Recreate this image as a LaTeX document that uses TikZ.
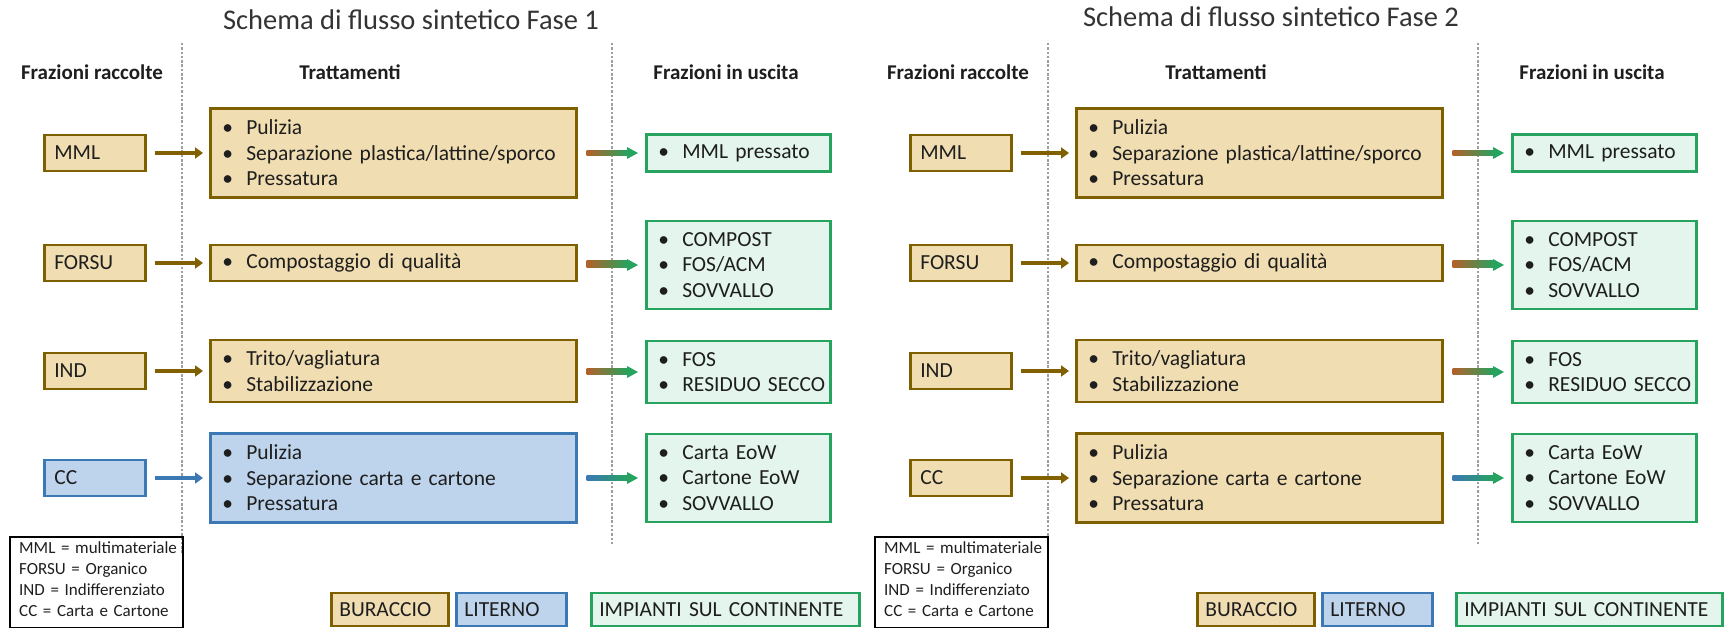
\documentclass[tikz,border=0pt]{standalone}
\usepackage{fontspec}
\setmainfont{Carlito}
\usetikzlibrary{arrows.meta,calc}

\definecolor{tanfill}{HTML}{F0DDB2}
\definecolor{tanline}{HTML}{7F6000}
\definecolor{bluefill}{HTML}{BED4EC}
\definecolor{blueline}{HTML}{3C78B4}
\definecolor{grnfill}{HTML}{E3F5EC}
\definecolor{grnline}{HTML}{25A35F}
\definecolor{arrbrown}{HTML}{806000}
\definecolor{arrorange}{HTML}{B4602A}
\definecolor{txt}{HTML}{1E1E1E}
\definecolor{ttl}{HTML}{333333}

\newcommand\bodysize{\fontsize{21.5pt}{25.5pt}\selectfont}
\newcommand\legsize{\fontsize{17pt}{21pt}\selectfont}
\newcommand\headsize{\fontsize{21pt}{25pt}\selectfont\bfseries}
\newcommand\titlesize{\fontsize{28.5pt}{32pt}\selectfont}
\newcommand\itembul[1]{\hspace*{12pt}\makebox[24pt][l]{•}#1}
\newcommand\legline[1]{\hspace*{9pt}#1}

% gradient output arrow between a treatment box and an output box
\newcommand\outflow[3]{%
  \shade[left color=#3, right color=grnline, middle color=#3!50!grnline]
    ([xshift=9pt,yshift=2.4pt]#1.east) rectangle ([xshift=-17pt,yshift=-2.4pt]#2.west);
  \fill[grnline] ([xshift=-18pt,yshift=6pt]#2.west) -- ([xshift=-7pt]#2.west)
    -- ([xshift=-18pt,yshift=-6pt]#2.west) -- cycle;}

\begin{document}
\hyphenpenalty=10000
\begin{tikzpicture}[x=1pt,y=-1pt,
  box/.style={draw, line width=2.6pt, inner ysep=0pt, anchor=west,
    align=left, text=txt, font=\bodysize},
  srcbox/.style={box, inner xsep=10pt, text width=81pt, minimum height=36pt},
  treat/.style={box, inner xsep=0pt, text width=366pt},
  outbox/.style={box, inner xsep=0pt, text width=184pt},
  buraccio/.style={draw=tanline, fill=tanfill},
  literno/.style={draw=blueline, fill=bluefill},
  uscita/.style={draw=grnline, fill=grnfill},
  inflow/.style={line width=4.8pt, -{Triangle[length=8pt,width=11pt]}},
  divider/.style={draw=gray!75, line width=1.1pt, dash pattern=on 2.5pt off 1.8pt},
  title/.style={font=\titlesize, text=ttl, inner sep=0pt},
  head/.style={font=\headsize, text=txt, inner sep=0pt},
  legend/.style={draw=black, line width=2.4pt, anchor=north west, align=left,
    inner xsep=0pt, text width=173pt, minimum height=91pt, font=\legsize, text=txt},
  tag/.style={box, font=\fontsize{21.5pt}{25pt}\selectfont, inner xsep=8pt,
    minimum height=33pt}
]
\useasboundingbox (0,0) rectangle (1724,628);

% ---------------- Fase 1 ----------------
\node[title] (ta) at (411,20) {Schema di flusso sintetico Fase 1};
\node[head] (ha1) at (92,72) {Frazioni raccolte};
\node[head] (ha2) at (350,72) {Trattamenti};
\node[head] (ha3) at (726,72) {Frazioni in uscita};
\draw[divider] (182,43) -- (182,553);
\draw[divider] (612,43) -- (612,545);

\node[srcbox, buraccio] (a1) at (43,153) {MML};
\node[srcbox, buraccio] (a2) at (43,263) {FORSU};
\node[srcbox, buraccio] (a3) at (43,371) {IND};
\node[srcbox, literno]  (a4) at (43,478) {CC};

\node[treat, buraccio, minimum height=89pt] (at1) at (209,153)
  {\itembul{Pulizia}\\\itembul{Separazione plastica/lattine/sporco}\\\itembul{Pressatura}};
\node[treat, buraccio, minimum height=36pt] (at2) at (209,263)
  {\itembul{Compostaggio di qualità}};
\node[treat, buraccio, minimum height=62pt] (at3) at (209,371)
  {\itembul{Trito/vagliatura}\\\itembul{Stabilizzazione}};
\node[treat, literno, minimum height=89pt] (at4) at (209,478)
  {\itembul{Pulizia}\\\itembul{Separazione carta e cartone}\\\itembul{Pressatura}};

\node[outbox, uscita, minimum height=37pt] (ao1) at (645,153) {\itembul{MML pressato}};
\node[outbox, uscita, minimum height=88pt] (ao2) at (645,265)
  {\itembul{COMPOST}\\\itembul{FOS/ACM}\\\itembul{SOVVALLO}};
\node[outbox, uscita, minimum height=62pt] (ao3) at (645,372)
  {\itembul{FOS}\\\itembul{RESIDUO SECCO}};
\node[outbox, uscita, minimum height=88pt] (ao4) at (645,478)
  {\itembul{Carta EoW}\\\itembul{Cartone EoW}\\\itembul{SOVVALLO}};

\draw[inflow, arrbrown] ([xshift=8pt]a1.east) -- ([xshift=-6pt]at1.west);
\draw[inflow, arrbrown] ([xshift=8pt]a2.east) -- ([xshift=-6pt]at2.west);
\draw[inflow, arrbrown] ([xshift=8pt]a3.east) -- ([xshift=-6pt]at3.west);
\draw[inflow, blueline] ([xshift=8pt]a4.east) -- ([xshift=-6pt]at4.west);

\outflow{at1}{ao1}{arrorange}
\outflow{at2}{ao2}{arrorange}
\outflow{at3}{ao3}{arrorange}
\outflow{at4}{ao4}{blueline}

\node[legend] (la) at (9,536)
  {\legline{MML = multimateriale}\\\legline{FORSU = Organico}\\\legline{IND = Indifferenziato}\\\legline{CC = Carta e Cartone}\rule[-8pt]{0pt}{8pt}};
\node[tag, buraccio, text width=101pt] (ka1) at (330,609.5) {BURACCIO};
\node[tag, literno, text width=94pt] (ka2) at (455,609.5) {LITERNO};
\node[tag, uscita, text width=252pt] (ka3) at (590,609.5) {IMPIANTI SUL CONTINENTE};

% ---------------- Fase 2 ----------------
\node[title] (tb) at (1271,17) {Schema di flusso sintetico Fase 2};
\node[head] (hb1) at (958,72) {Frazioni raccolte};
\node[head] (hb2) at (1216,72) {Trattamenti};
\node[head] (hb3) at (1592,72) {Frazioni in uscita};
\draw[divider] (1048,43) -- (1048,553);
\draw[divider] (1478,43) -- (1478,545);

\node[srcbox, buraccio] (b1) at (909,153) {MML};
\node[srcbox, buraccio] (b2) at (909,263) {FORSU};
\node[srcbox, buraccio] (b3) at (909,371) {IND};
\node[srcbox, buraccio] (b4) at (909,478) {CC};

\node[treat, buraccio, minimum height=89pt] (bt1) at (1075,153)
  {\itembul{Pulizia}\\\itembul{Separazione plastica/lattine/sporco}\\\itembul{Pressatura}};
\node[treat, buraccio, minimum height=36pt] (bt2) at (1075,263)
  {\itembul{Compostaggio di qualità}};
\node[treat, buraccio, minimum height=62pt] (bt3) at (1075,371)
  {\itembul{Trito/vagliatura}\\\itembul{Stabilizzazione}};
\node[treat, buraccio, minimum height=89pt] (bt4) at (1075,478)
  {\itembul{Pulizia}\\\itembul{Separazione carta e cartone}\\\itembul{Pressatura}};

\node[outbox, uscita, minimum height=37pt] (bo1) at (1511,153) {\itembul{MML pressato}};
\node[outbox, uscita, minimum height=88pt] (bo2) at (1511,265)
  {\itembul{COMPOST}\\\itembul{FOS/ACM}\\\itembul{SOVVALLO}};
\node[outbox, uscita, minimum height=62pt] (bo3) at (1511,372)
  {\itembul{FOS}\\\itembul{RESIDUO SECCO}};
\node[outbox, uscita, minimum height=88pt] (bo4) at (1511,478)
  {\itembul{Carta EoW}\\\itembul{Cartone EoW}\\\itembul{SOVVALLO}};

\draw[inflow, arrbrown] ([xshift=8pt]b1.east) -- ([xshift=-6pt]bt1.west);
\draw[inflow, arrbrown] ([xshift=8pt]b2.east) -- ([xshift=-6pt]bt2.west);
\draw[inflow, arrbrown] ([xshift=8pt]b3.east) -- ([xshift=-6pt]bt3.west);
\draw[inflow, arrbrown] ([xshift=8pt]b4.east) -- ([xshift=-6pt]bt4.west);

\outflow{bt1}{bo1}{arrorange}
\outflow{bt2}{bo2}{arrorange}
\outflow{bt3}{bo3}{arrorange}
\outflow{bt4}{bo4}{blueline}

\node[legend] (lb) at (874,536)
  {\legline{MML = multimateriale}\\\legline{FORSU = Organico}\\\legline{IND = Indifferenziato}\\\legline{CC = Carta e Cartone}\rule[-8pt]{0pt}{8pt}};
\node[tag, buraccio, text width=101pt] (kb1) at (1196,609.5) {BURACCIO};
\node[tag, literno, text width=94pt] (kb2) at (1321,609.5) {LITERNO};
\node[tag, uscita, text width=250pt] (kb3) at (1455,609.5) {IMPIANTI SUL CONTINENTE};
\end{tikzpicture}
\end{document}
